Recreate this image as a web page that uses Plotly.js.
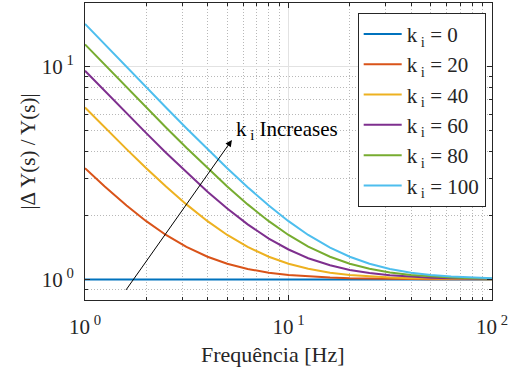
<!DOCTYPE html>
<html>
<head>
<meta charset="utf-8">
<script src="https://cdn.plot.ly/plotly-3.0.1.min.js"></script>
<style>html,body{margin:0;padding:0;background:#fff;}#chart{width:516px;height:371px;}</style>
</head>
<body>
<div id="chart"></div>
<script>
const freq = [1, 1.25, 1.6, 2, 2.5, 3.15, 4, 5, 6.3, 8, 10, 12.5, 16, 20, 25, 31.5, 40, 50, 63, 80, 100];
// |ΔY(s)/Y(s)| for each k_i
const ki0   = [1, 1, 1, 1, 1, 1, 1, 1, 1, 1, 1, 1, 1, 1, 1, 1, 1, 1, 1, 1, 1];
const ki20  = [3.336, 2.736, 2.226, 1.880, 1.619, 1.422, 1.278, 1.185, 1.120, 1.076, 1.049, 1.032, 1.020, 1.0126, 1.0081, 1.0051, 1.0032, 1.0020, 1.0013, 1.0008, 1.0005];
const ki40  = [6.444, 5.190, 4.103, 3.336, 2.736, 2.255, 1.880, 1.619, 1.422, 1.278, 1.185, 1.122, 1.076, 1.049, 1.032, 1.020, 1.0126, 1.0081, 1.0051, 1.0032, 1.0020];
const ki60  = [9.601, 7.705, 6.051, 4.879, 3.949, 3.192, 2.588, 2.156, 1.816, 1.557, 1.383, 1.258, 1.165, 1.108, 1.071, 1.045, 1.028, 1.018, 1.0114, 1.0071, 1.0046];
const ki80  = [12.77, 10.235, 8.021, 6.444, 5.190, 4.164, 3.336, 2.736, 2.255, 1.880, 1.619, 1.427, 1.278, 1.185, 1.122, 1.0786, 1.049, 1.032, 1.020, 1.0126, 1.0081];
const ki100 = [15.95, 12.77, 9.997, 8.021, 6.444, 5.150, 4.103, 3.336, 2.717, 2.226, 1.880, 1.619, 1.411, 1.278, 1.185, 1.120, 1.076, 1.049, 1.0314, 1.020, 1.0126];
const seriesNames = ['k<sub> i</sub> = 0', 'k<sub> i</sub> = 20', 'k<sub> i</sub> = 40', 'k<sub> i</sub> = 60', 'k<sub> i</sub> = 80', 'k<sub> i</sub> = 100'];
const seriesValues = [ki0, ki20, ki40, ki60, ki80, ki100];
const colors = ['#0072BD', '#D95319', '#EDB120', '#7E2F8E', '#77AC30', '#4DBEEE'];

const xTickVals = [1, 10, 100];
const xTickText = ['10<sup> 0</sup>', '10<sup> 1</sup>', '10<sup> 2</sup>'];
const yTickVals = [1, 10];
const yTickText = ['10<sup> 0</sup>', '10<sup> 1</sup>'];
const xMinor = [2,3,4,5,6,7,8,9,20,30,40,50,60,70,80,90];
const yMinor = [0.8,0.9,2,3,4,5,6,7,8,9];

// arrow annotation (data coords)
const arrowTail = [1.572, 0.878];
const arrowHead = [5.27, 4.53];
const labelPos = [5.4, 5.05];

const font = "'Liberation Serif', 'Times New Roman', serif";
const ink = '#262626';
const traces = seriesValues.map((v, i) => ({
  x: freq, y: v, type: 'scatter', mode: 'lines', name: seriesNames[i],
  line: {color: colors[i], width: 2}
}));

const minorStyle = {ticks: 'inside', ticklen: 3, tickcolor: ink, showgrid: true, gridcolor: '#b8b8b8', griddash: '1px,2px', gridwidth: 1};
const axisCommon = {
  type: 'log', showline: true, linecolor: ink, linewidth: 1, mirror: 'allticks',
  ticks: 'inside', ticklen: 5, tickcolor: ink, tickmode: 'array',
  showgrid: true, gridcolor: '#e2e2e2', gridwidth: 1, zeroline: false,
  tickfont: {family: font, size: 21, color: ink}
};

const layout = {
  width: 516, height: 371,
  margin: {l: 85, r: 24, t: 3, b: 71},
  paper_bgcolor: '#fff', plot_bgcolor: '#fff',
  font: {family: font, color: ink},
  showlegend: true,
  legend: {x: 0.67, y: 0.967, xanchor: 'left', yanchor: 'top', bgcolor: '#fff',
           bordercolor: ink, borderwidth: 1, itemwidth: 38, font: {family: font, size: 21, color: ink}},
  xaxis: Object.assign({}, axisCommon, {
    range: [0, 2], tickvals: xTickVals, ticktext: xTickText, ticklabelstandoff: 8,
    minor: Object.assign({tickvals: xMinor}, minorStyle)
  }),
  yaxis: Object.assign({}, axisCommon, {
    range: [Math.log10(0.8), Math.log10(20)], tickvals: yTickVals, ticktext: yTickText, ticklabelstandoff: 6,
    minor: Object.assign({tickvals: yMinor}, minorStyle),
    title: {text: '|Δ Y(s) / Y(s)|', font: {family: font, size: 21, color: ink}, standoff: 0}
  }),
  annotations: [
    {x: 0.4617, y: -0.185, xref: 'paper', yref: 'paper', xanchor: 'center', yanchor: 'middle', showarrow: false,
     text: 'Frequência [Hz]', font: {family: font, size: 22, color: ink}},
    {x: Math.log10(arrowHead[0]), y: Math.log10(arrowHead[1]), ax: Math.log10(arrowTail[0]), ay: Math.log10(arrowTail[1]),
     xref: 'x', yref: 'y', axref: 'x', ayref: 'y', text: '', showarrow: true, arrowhead: 2, arrowsize: 1.3, arrowwidth: 1, arrowcolor: '#000'},
    {x: Math.log10(labelPos[0]), y: Math.log10(labelPos[1]), xref: 'x', yref: 'y', xanchor: 'left', yanchor: 'middle',
     text: 'k<sub> i</sub> Increases', showarrow: false, font: {family: font, size: 21, color: '#000'}}
  ]
};

Plotly.newPlot('chart', traces, layout, {displayModeBar: false, staticPlot: true});
</script>
</body>
</html>
